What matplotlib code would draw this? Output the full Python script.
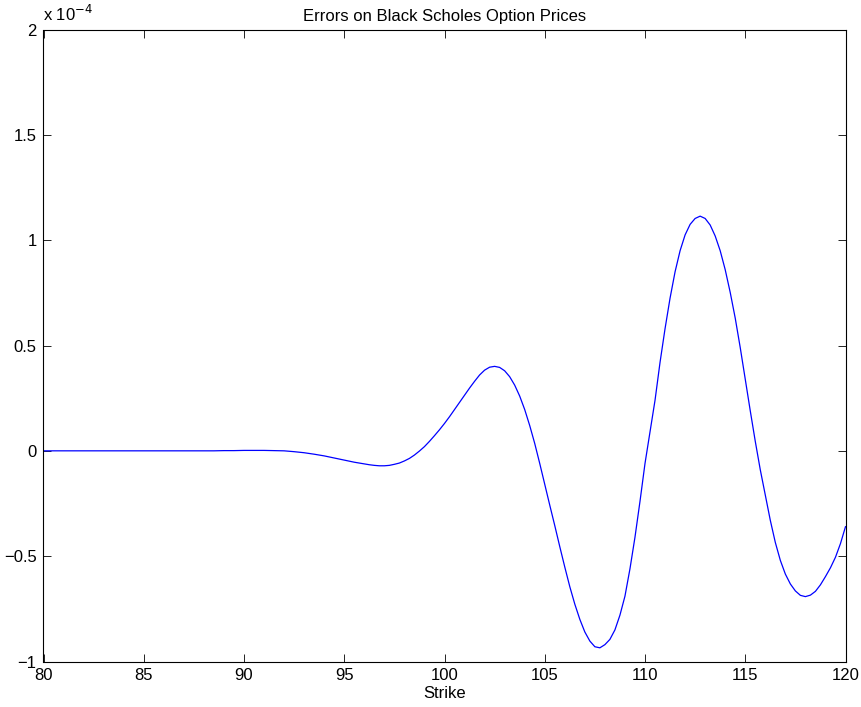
import numpy as np
import matplotlib
matplotlib.use("Agg")
import matplotlib.pyplot as plt
from matplotlib.ticker import FuncFormatter

plt.rcParams['font.family'] = ['Liberation Sans', 'DejaVu Sans']

# flat / small-dip region, read every 0.5
strike_left = [80.0, 80.5, 81.0, 81.5, 82.0, 82.5, 83.0, 83.5, 84.0, 84.5,
               85.0, 85.5, 86.0, 86.5, 87.0, 87.5, 88.0, 88.5, 89.0, 89.5,
               90.0, 90.5, 91.0, 91.5, 92.0, 92.5, 93.0, 93.5, 94.0, 94.5,
               95.0, 95.5]
error_left_e4 = [0.0, 0.0, 0.0, 0.0, 0.0, 0.0, 0.0, 0.0, 0.0, 0.0,
                 0.0, 0.0, 0.0, 0.0, 0.0, 0.0, 0.0, 0.0, 0.001, 0.001,
                 0.002, 0.002, 0.002, 0.001, 0.0, -0.004, -0.009, -0.016, -0.024, -0.034,
                 -0.044, -0.054]
# oscillating region, read every 0.25
strike_right = [96.0, 96.25, 96.5, 96.75, 97.0, 97.25, 97.5, 97.75,
                98.0, 98.25, 98.5, 98.75, 99.0, 99.25, 99.5, 99.75,
                100.0, 100.25, 100.5, 100.75, 101.0, 101.25, 101.5, 101.75,
                102.0, 102.25, 102.5, 102.75, 103.0, 103.25, 103.5, 103.75,
                104.0, 104.25, 104.5, 104.75, 105.0, 105.25, 105.5, 105.75,
                106.0, 106.25, 106.5, 106.75, 107.0, 107.25, 107.5, 107.75,
                108.0, 108.25, 108.5, 108.75, 109.0, 109.25, 109.5, 109.75,
                110.0, 110.25, 110.5, 110.75, 111.0, 111.25, 111.5, 111.75,
                112.0, 112.25, 112.5, 112.75, 113.0, 113.25, 113.5, 113.75,
                114.0, 114.25, 114.5, 114.75, 115.0, 115.25, 115.5, 115.75,
                116.0, 116.25, 116.5, 116.75, 117.0, 117.25, 117.5, 117.75,
                118.0, 118.25, 118.5, 118.75, 119.0, 119.25, 119.5, 119.75,
                120.0]
error_right_e4 = [-0.062, -0.066, -0.069, -0.071, -0.071, -0.069, -0.064, -0.058,
                  -0.048, -0.036, -0.020, -0.001, 0.020, 0.045, 0.072, 0.100,
                  0.130, 0.162, 0.196, 0.230, 0.264, 0.298, 0.330, 0.360,
                  0.383, 0.397, 0.401, 0.396, 0.380, 0.352, 0.312, 0.260,
                  0.196, 0.120, 0.035, -0.060, -0.160, -0.258, -0.355, -0.455,
                  -0.552, -0.645, -0.728, -0.800, -0.860, -0.903, -0.930, -0.935,
                  -0.920, -0.895, -0.850, -0.780, -0.690, -0.560, -0.410, -0.240,
                  -0.060, 0.090, 0.240, 0.420, 0.580, 0.725, 0.850, 0.950,
                  1.025, 1.075, 1.103, 1.114, 1.103, 1.072, 1.020, 0.950,
                  0.860, 0.752, 0.630, 0.490, 0.340, 0.190, 0.045, -0.090,
                  -0.210, -0.330, -0.435, -0.520, -0.585, -0.632, -0.665, -0.686,
                  -0.692, -0.685, -0.667, -0.636, -0.597, -0.555, -0.505, -0.440,
                  -0.360]
scale = 1e-4
title = "Errors on Black Scholes Option Prices"
xlabel = "Strike"
xticks = [80, 85, 90, 95, 100, 105, 110, 115, 120]
yticks_e4 = [-1, -0.5, 0, 0.5, 1, 1.5, 2]

strike = strike_left + strike_right
error = np.array(error_left_e4 + error_right_e4) * scale

fig = plt.figure(figsize=(8.62, 7.07), dpi=100)
ax = fig.add_axes([43.5/862, (707-661.5)/707, (845.5-43.5)/862, (661.5-29.5)/707])

ax.plot(strike, error, color=(0, 0, 1), lw=0.9)

ax.set_xlim(80, 120)
ax.set_ylim(-1e-4, 2e-4)
ax.set_xticks(xticks)
ax.set_yticks([v * scale for v in yticks_e4])

def fmt(v, pos):
    u = round(v / scale, 6)
    if u == int(u):
        s = "%d" % int(u)
    else:
        s = "%g" % u
    return s.replace('-', '\u2212')

ax.yaxis.set_major_formatter(FuncFormatter(fmt))
ax.tick_params(direction='in', length=5.8, width=0.6, labelsize=12,
               top=True, right=True, pad=5)
for sp in ax.spines.values():
    sp.set_linewidth(0.8)

ax.set_title(title, fontsize=12, pad=6)
ax.set_xlabel(xlabel, fontsize=12, labelpad=2)
ax.text(0.0, 1.008, r'x 10$^{-4}$', transform=ax.transAxes,
        fontsize=12, ha='left', va='bottom')

fig.savefig("out.png", dpi=100)
